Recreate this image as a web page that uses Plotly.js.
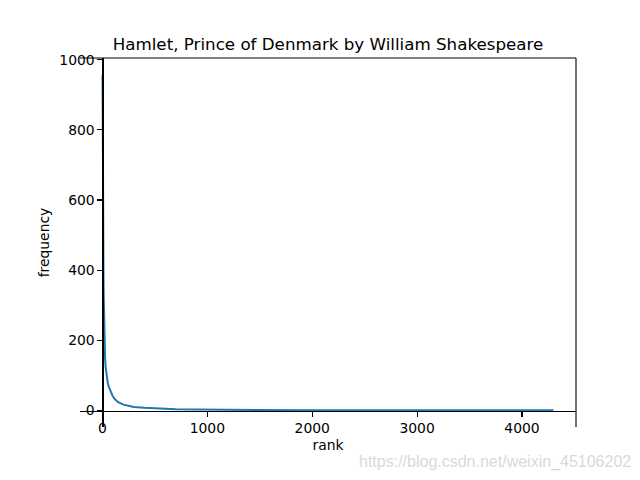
<!DOCTYPE html>
<html>
<head>
<meta charset="utf-8">
<script src="https://cdn.plot.ly/plotly-3.0.1.min.js"></script>
<style>html,body{margin:0;padding:0;background:#fff;}</style>
</head>
<body>
<div id="chart" style="width:640px;height:480px;"></div>
<script>
// Word rank vs frequency
const ranks = [1, 2, 3, 4, 5, 6, 7, 8, 9, 10, 12, 14, 17, 20, 25, 30, 35, 40, 50, 60, 70, 80, 100, 120, 150, 200, 250, 300, 400, 500, 600, 700, 900, 1300, 2000, 4300];
const freqs = [957, 740, 680, 640, 570, 520, 480, 440, 410, 380, 330, 290, 220, 190, 150, 125, 110, 98, 80, 68, 60, 53, 40, 32, 24, 17, 13, 10, 8, 6, 5, 4, 3, 2, 1, 1];
const xTicks = [0, 1000, 2000, 3000, 4000];
const yTicks = [0, 200, 400, 600, 800, 1000];
const titleText = "Hamlet, Prince of Denmark by William Shakespeare";
const xLabel = "rank";
const yLabel = "frequency";
const watermark = "https://blog.csdn.net/weixin_45106202";

// matplotlib-like 5% margins
const xmin = Math.min(...ranks), xmax = Math.max(...ranks);
const ymin = Math.min(...freqs), ymax = Math.max(...freqs);
const xr = [xmin - 0.05 * (xmax - xmin), xmax + 0.05 * (xmax - xmin)];
const yr = [ymin - 0.05 * (ymax - ymin), ymax + 0.05 * (ymax - ymin)];
const yAxisPos = (0 - xr[0]) / (xr[1] - xr[0]);
const xAxisPos = (0 - yr[0]) / (yr[1] - yr[0]);

const font = "DejaVu Sans, sans-serif";

const trace = {
  x: ranks, y: freqs, type: "scatter", mode: "lines",
  line: {color: "#1f77b4", width: 2}, hoverinfo: "none"
};

const layout = {
  width: 640, height: 480,
  margin: {l: 80, r: 64, t: 58, b: 53, pad: 0},
  paper_bgcolor: "#fff", plot_bgcolor: "#fff",
  showlegend: false,
  font: {family: font, size: 13.9, color: "#000"},
  title: {text: titleText, font: {family: font, size: 16.7, color: "#000"},
          x: 0.5125, xanchor: "center", xref: "container",
          y: 1 - 44 / 480, yanchor: "middle", yref: "container"},
  xaxis: {
    range: xr, anchor: "free", position: xAxisPos,
    showgrid: false, zeroline: false, showline: true, linecolor: "#000", linewidth: 1.1,
    ticks: "outside", ticklen: 5, tickwidth: 1.1, tickcolor: "#000",
    tickvals: xTicks, ticktext: xTicks.map(String),
    tickfont: {family: font, size: 13.9, color: "#000"},
    title: {text: xLabel, font: {family: font, size: 13.9, color: "#000"}, standoff: 4}
  },
  yaxis: {
    range: yr, anchor: "free", position: yAxisPos,
    showgrid: false, zeroline: false, showline: true, linecolor: "#000", linewidth: 1.1,
    ticks: "outside", ticklen: 5, tickwidth: 1.1, tickcolor: "#000",
    tickvals: yTicks, ticktext: yTicks.map(String),
    tickfont: {family: font, size: 13.9, color: "#000"},
    title: {text: yLabel, font: {family: font, size: 13.9, color: "#000"}, standoff: 5}
  },
  shapes: [
    {type: "line", xref: "paper", yref: "paper", x0: 0, x1: 1, y0: 1, y1: 1, line: {color: "#000", width: 1.1}},
    {type: "line", xref: "paper", yref: "paper", x0: 1, x1: 1, y0: 0, y1: 1, line: {color: "#000", width: 1.1}}
  ],
  annotations: [
    {text: watermark, xref: "paper", yref: "paper", x: 1.115, y: -0.095, xanchor: "right", yanchor: "middle",
     showarrow: false, font: {family: "Liberation Sans, Arial, sans-serif", size: 16, color: "#d9d9d9"}}
  ]
};

Plotly.newPlot("chart", [trace], layout, {displayModeBar: false, staticPlot: true});
</script>
</body>
</html>
